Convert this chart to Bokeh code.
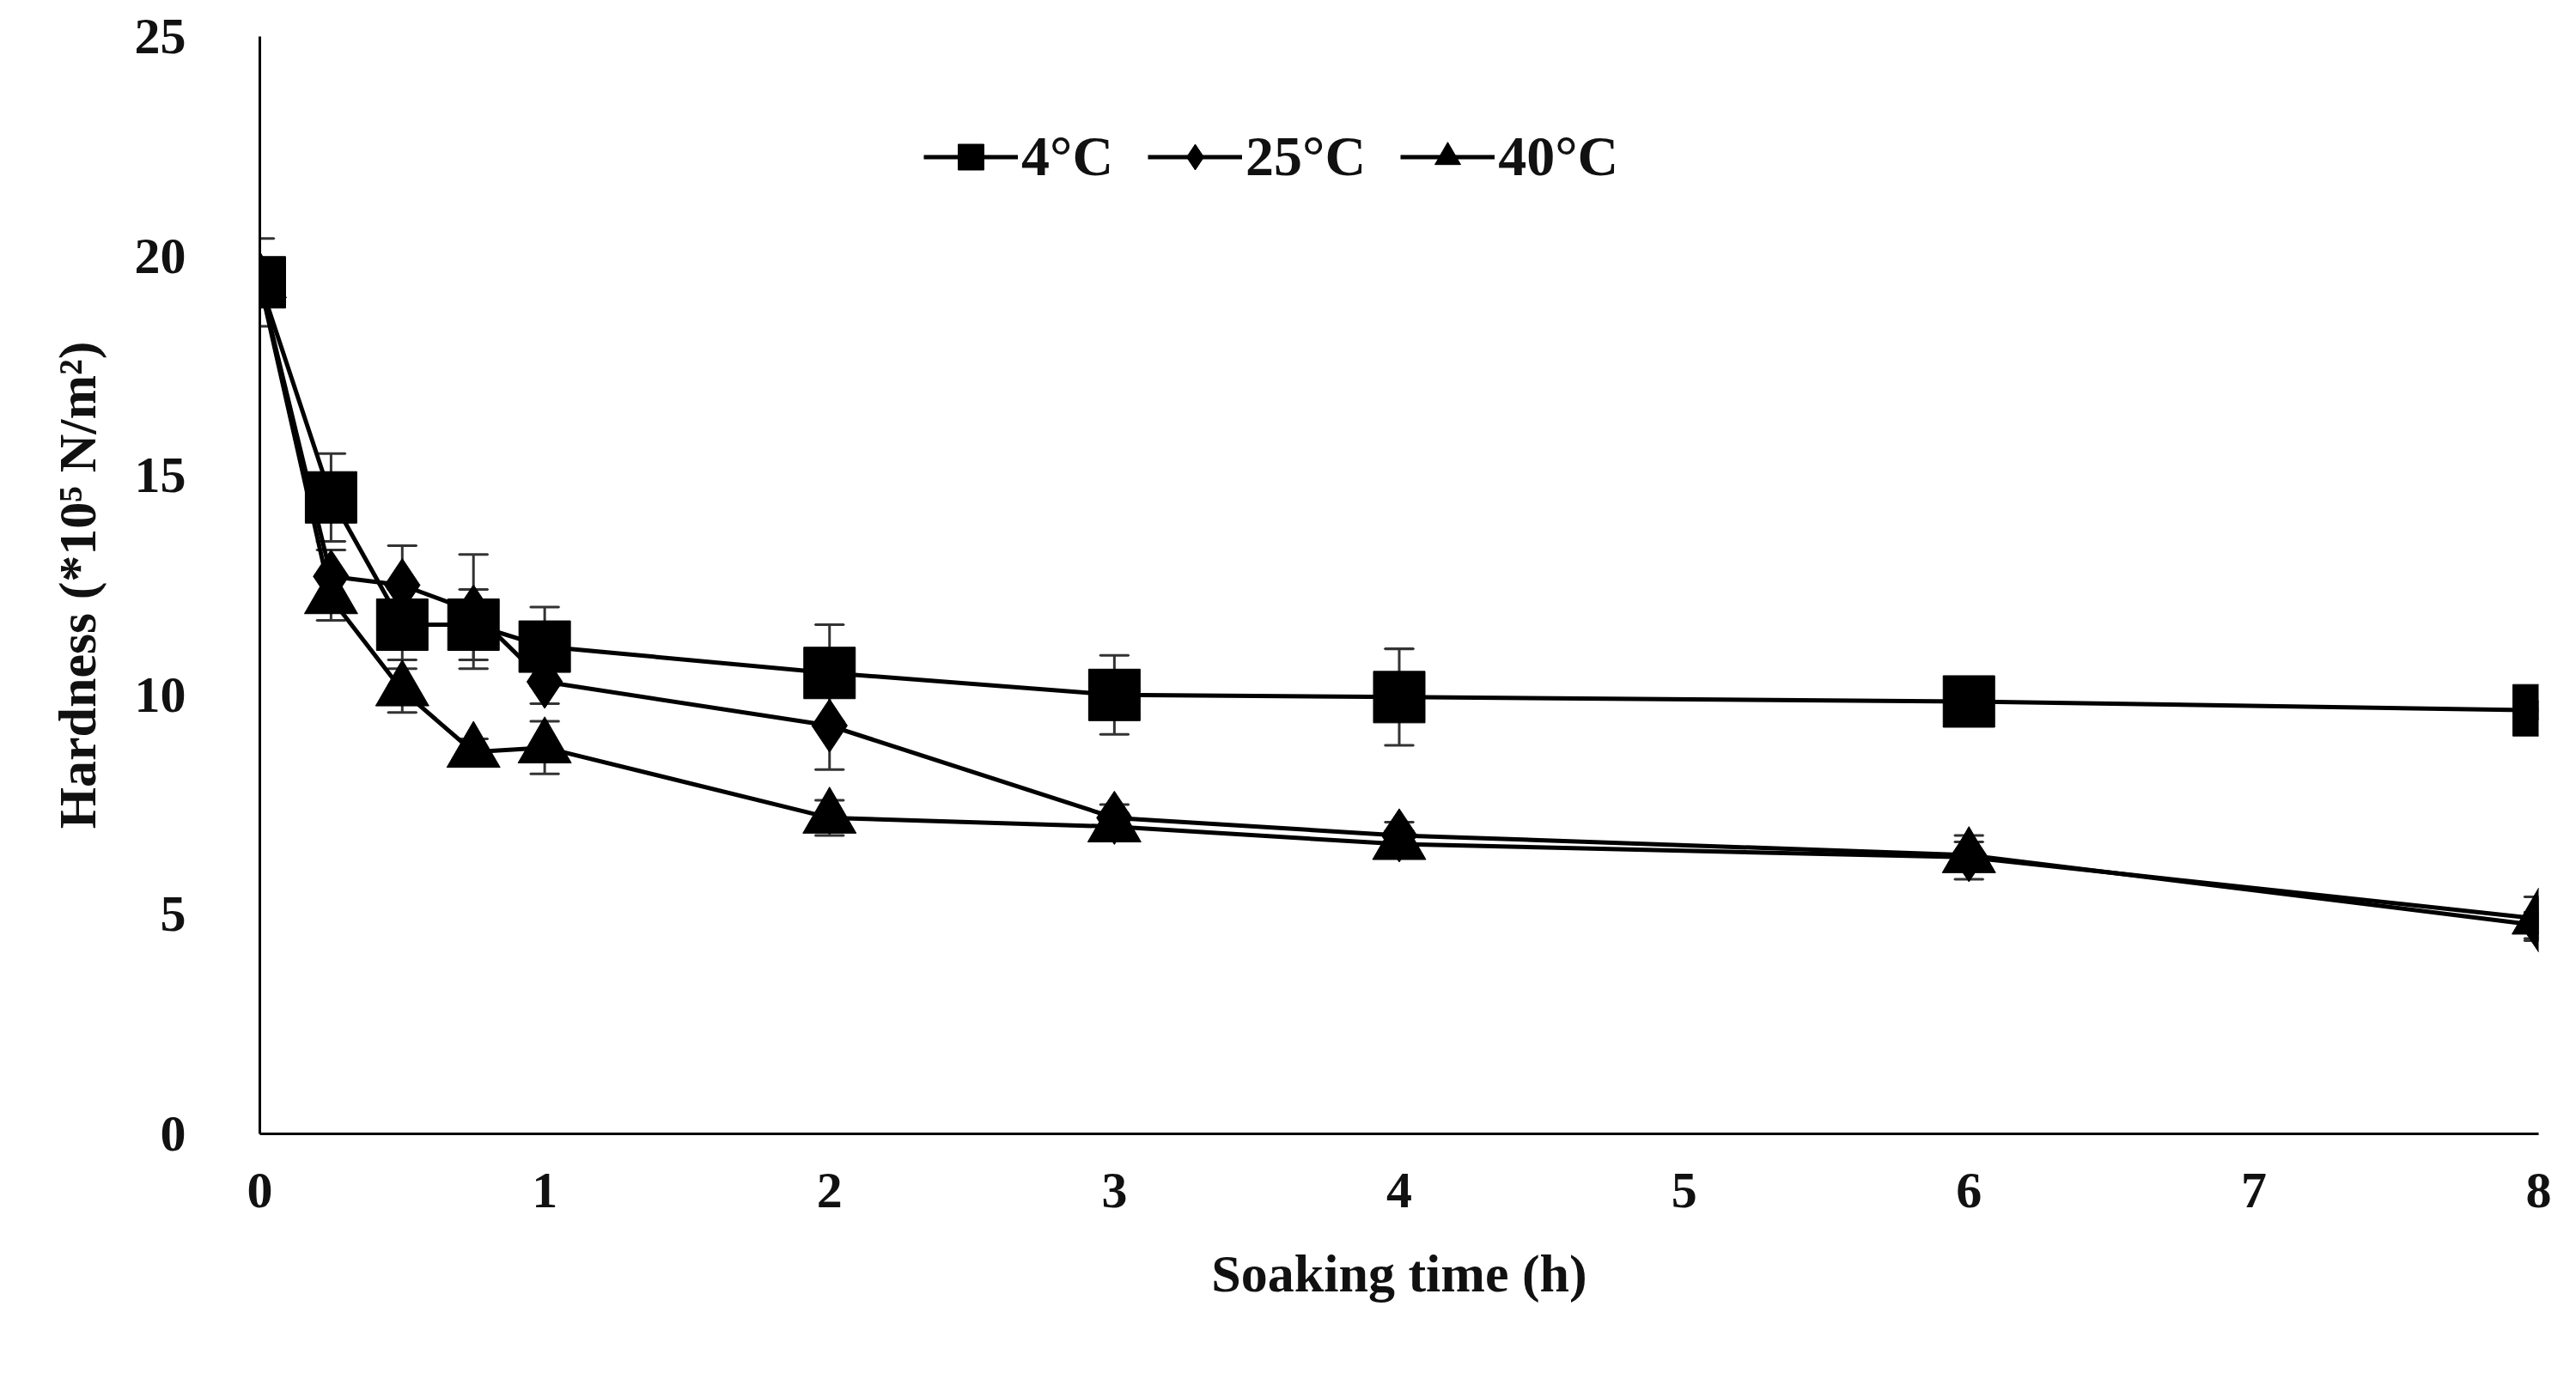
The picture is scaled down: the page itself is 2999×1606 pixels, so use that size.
from bokeh.plotting import figure
from bokeh.models import Range1d, FixedTicker, Legend, LegendItem
from bokeh.embed import file_html
from bokeh.resources import INLINE

time = [0, 0.25, 0.5, 0.75, 1, 2, 3, 4, 6, 8]
h4 = [19.4, 14.5, 11.6, 11.6, 11.1, 10.5, 10.0, 9.95, 9.85, 9.65]
e4 = [1.0, 1.0, 0.8, 0.8, 0.9, 1.1, 0.9, 1.1, 0.2, 0.2]
h25 = [19.4, 12.7, 12.5, 11.9, 10.3, 9.3, 7.2, 6.8, 6.35, 4.75]
e25 = [0.5, 0.6, 0.9, 1.3, 0.5, 1.0, 0.3, 0.3, 0.3, 0.3]
h40 = [19.4, 12.2, 10.1, 8.7, 8.8, 7.2, 7.0, 6.6, 6.3, 4.9]
e40 = [0.5, 0.5, 0.5, 0.3, 0.6, 0.4, 0.3, 0.3, 0.5, 0.5]
xticks = [0, 1, 2, 3, 4, 5, 6, 7, 8]
yticks = [0, 5, 10, 15, 20, 25]

F = "Liberation Serif"
p = figure(width=2983, height=1590, output_backend="svg", toolbar_location=None,
           x_range=Range1d(0, 8), y_range=Range1d(0, 25),
           min_border_left=302, min_border_right=28, min_border_top=42, min_border_bottom=270)
p.outline_line_color = None
p.grid.grid_line_color = None
for ax in (p.xaxis[0], p.yaxis[0]):
    ax.major_tick_line_color = None
    ax.minor_tick_line_color = None
    ax.axis_line_width = 3
    ax.major_label_text_font = F
    ax.major_label_text_font_style = "bold"
    ax.major_label_text_font_size = "60px"
    ax.axis_label_text_font = F
    ax.axis_label_text_font_style = "bold"
    ax.axis_label_text_font_size = "62px"
    ax.axis_label_text_color = "#111111"
    ax.major_label_text_color = "#111111"
p.xaxis.ticker = FixedTicker(ticks=xticks)
p.yaxis.ticker = FixedTicker(ticks=yticks)
p.xaxis.major_label_standoff = 40
p.yaxis.major_label_standoff = 80
p.xaxis.axis_label = "Soaking time (h)"
p.yaxis.axis_label = "Hardness (*10\u2075 N/m\u00b2)"
p.xaxis.axis_label_standoff = 40
p.yaxis.axis_label_standoff = 30

items = []
for h, e in [(h4, e4), (h25, e25), (h40, e40)]:
    lo = [a - b for a, b in zip(h, e)]
    hi = [a + b for a, b in zip(h, e)]
    p.segment(time, lo, time, hi, line_color="#333333", line_width=3)
    p.rect(time, hi, width=0.1, height=0.0001, line_color="#333333", line_width=3)
    p.rect(time, lo, width=0.1, height=0.0001, line_color="#333333", line_width=3)
for h, m, s, lab in [(h4, "square", 60, "4\u00b0C"), (h25, "diamond", 62, "25\u00b0C"), (h40, "triangle", 62, "40\u00b0C")]:
    l = p.line(time, h, line_color="black", line_width=5)
    sc = p.scatter(time, h, marker=m, size=s, fill_color="black", line_color="black")
    items.append(LegendItem(label=lab, renderers=[l, sc]))

leg = Legend(items=items, orientation="horizontal",
             label_text_font=F, label_text_font_style="bold", label_text_font_size="66px",
             label_text_color="#111111",
             glyph_width=110, glyph_height=75, spacing=40, label_standoff=4,
             border_line_color=None, background_fill_alpha=0, margin=0, padding=0)
leg.location = (773, 1100)
p.add_layout(leg, "center")

open("out.html", "w").write(file_html(p, INLINE))
